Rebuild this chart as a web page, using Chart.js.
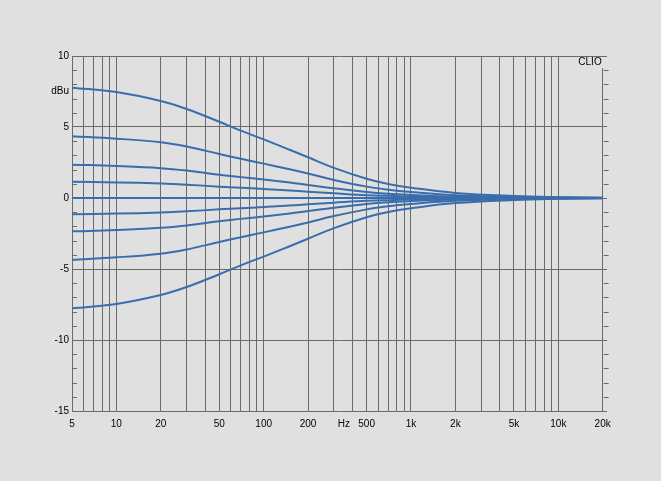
<!DOCTYPE html>
<html>
<head>
<meta charset="utf-8">
<script src="https://cdn.jsdelivr.net/npm/chart.js@4/dist/chart.umd.min.js"></script>
<style>
  html, body { margin: 0; padding: 0; background: #e0e0e0; }
  #wrap { width: 661px; height: 481px; }
</style>
</head>
<body>
<div id="wrap"><canvas id="eq"></canvas></div>
<script>
  // frequencies (Hz)
  const freqs = [5, 10, 20, 30, 50, 70, 100, 150, 200, 300, 500, 700, 1000, 2000, 5000, 10000, 20000];

  // boost curves (dBu)
  const boost8 = [7.77, 7.46, 6.83, 6.27, 5.37, 4.74, 4.13, 3.40, 2.87, 2.12, 1.35, 0.98, 0.72, 0.36, 0.14, 0.06, 0.02];
  const boost4 = [4.35, 4.18, 3.92, 3.62, 3.10, 2.76, 2.42, 2.02, 1.72, 1.27, 0.80, 0.58, 0.42, 0.20, 0.08, 0.03, 0.01];
  const boost2 = [2.35, 2.25, 2.10, 1.93, 1.63, 1.47, 1.30, 1.09, 0.92, 0.68, 0.42, 0.30, 0.22, 0.10, 0.04, 0.02, 0.00];
  const boost1 = [1.15, 1.10, 1.02, 0.94, 0.80, 0.72, 0.64, 0.53, 0.44, 0.33, 0.20, 0.15, 0.11, 0.05, 0.02, 0.01, 0.00];
  const flat   = [0, 0, 0, 0, 0, 0, 0, 0, 0, 0, 0, 0, 0, 0, 0, 0, 0];
  // cut curves (dBu)
  const cut1 = [-1.15, -1.10, -1.02, -0.94, -0.80, -0.72, -0.64, -0.53, -0.44, -0.33, -0.20, -0.15, -0.11, -0.05, -0.02, -0.01, 0.00];
  const cut2 = [-2.35, -2.25, -2.10, -1.93, -1.63, -1.47, -1.30, -1.09, -0.92, -0.68, -0.42, -0.30, -0.22, -0.10, -0.04, -0.02, 0.00];
  const cut4 = [-4.35, -4.18, -3.92, -3.62, -3.10, -2.76, -2.42, -2.02, -1.72, -1.27, -0.80, -0.58, -0.42, -0.20, -0.08, -0.03, -0.01];
  const cut8 = [-7.77, -7.46, -6.83, -6.27, -5.37, -4.74, -4.13, -3.40, -2.87, -2.12, -1.35, -0.98, -0.72, -0.36, -0.14, -0.06, -0.02];

  // axis ticks
  const xGridTicks = [5,6,7,8,9,10,20,30,40,50,60,70,80,90,100,200,300,400,500,600,700,800,900,
                      1000,2000,3000,4000,5000,6000,7000,8000,9000,10000,20000];
  const xLabels = {5:'5',10:'10',20:'20',50:'50',100:'100',200:'200',350:'Hz',500:'500',
                   1000:'1k',2000:'2k',5000:'5k',10000:'10k',20000:'20k'};
  const yTicks = [-15, -10, -5, 0, 5, 7.5, 10];
  const yLabels = {'-15':'-15','-10':'-10','-5':'-5','0':'0','5':'5','7.5':'dBu','10':'10'};

  const series = [boost8, boost4, boost2, boost1, flat, cut1, cut2, cut4, cut8];
  const lineColor = '#3a6dab';
  const gridColor = '#6a6a6a';

  const datasets = series.map(vals => ({
    data: freqs.map((f, i) => ({ x: f, y: vals[i] })),
    borderColor: lineColor,
    borderWidth: 2,
    pointRadius: 0,
    fill: false,
    tension: 0.4
  }));

  // minor dB ticks on the left edge and on the 20k line, plus the CLIO tag
  const decor = {
    id: 'decor',
    afterDatasetsDraw(chart) {
      const { ctx, scales: { x, y } } = chart;
      const xl = x.getPixelForValue(5);
      const xr = x.getPixelForValue(20000);
      ctx.save();
      ctx.strokeStyle = gridColor;
      ctx.lineWidth = 1;
      for (let v = -15; v <= 10; v++) {
        if (v % 5 === 0) continue;
        const py = Math.round(y.getPixelForValue(v)) + 0.5;
        ctx.beginPath();
        ctx.moveTo(xl, py); ctx.lineTo(xl + 5, py);
        ctx.moveTo(xr + 1, py); ctx.lineTo(xr + 6, py);
        ctx.stroke();
      }
      // label box for CLIO
      ctx.fillStyle = '#e0e0e0';
      ctx.fillRect(xr - 24, y.getPixelForValue(10) + 1, 30, 11);
      ctx.fillStyle = '#000';
      ctx.font = '10px "Liberation Sans", Arial, sans-serif';
      ctx.textAlign = 'right';
      ctx.textBaseline = 'middle';
      ctx.fillText('CLIO', xr - 1, y.getPixelForValue(10) + 6);
      ctx.restore();
    }
  };

  new Chart(document.getElementById('eq'), {
    type: 'line',
    data: { datasets },
    options: {
      responsive: true,
      maintainAspectRatio: false,
      animation: false,
      layout: { padding: { left: 0, right: 54, top: 56, bottom: 40 } },
      plugins: { legend: { display: false }, tooltip: { enabled: false } },
      scales: {
        x: {
          type: 'logarithmic',
          min: 5,
          max: 21400,
          afterBuildTicks: s => { s.ticks = xGridTicks.concat([350]).map(v => ({ value: v })); },
          afterFit: s => { s.height = 30; },
          border: { display: false },
          grid: {
            drawTicks: false,
            color: c => (c.tick && c.tick.value === 350) ? 'rgba(0,0,0,0)' : gridColor,
            lineWidth: 1
          },
          ticks: {
            autoSkip: false,
            maxRotation: 0,
            padding: 7,
            color: '#000',
            font: { family: '"Liberation Sans", Arial, sans-serif', size: 10 },
            callback: v => xLabels[v] || ''
          }
        },
        y: {
          min: -15,
          max: 10,
          afterBuildTicks: s => { s.ticks = yTicks.map(v => ({ value: v })); },
          afterFit: s => { s.width = 72; },
          border: { display: false },
          grid: {
            drawTicks: false,
            color: c => (c.tick && c.tick.value === 7.5) ? 'rgba(0,0,0,0)' : gridColor,
            lineWidth: 1
          },
          ticks: {
            padding: 3,
            color: '#000',
            font: { family: '"Liberation Sans", Arial, sans-serif', size: 10 },
            callback: v => yLabels[String(v)] || ''
          }
        }
      }
    },
    plugins: [decor]
  });
</script>
</body>
</html>
